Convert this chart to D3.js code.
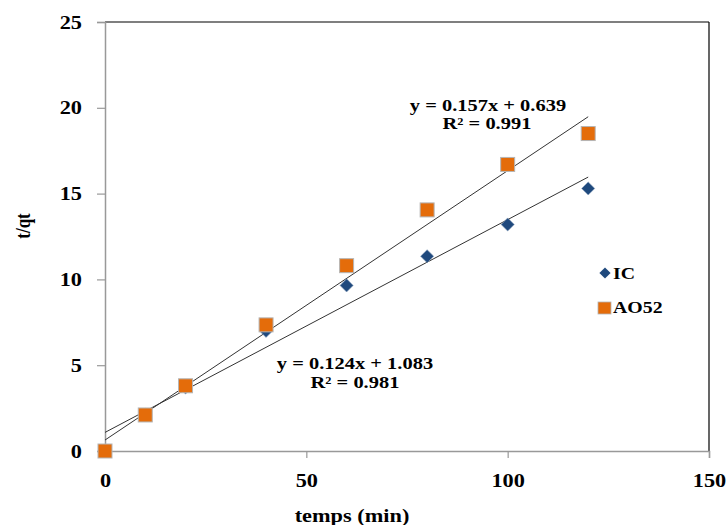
<!DOCTYPE html>
<html>
<head>
<meta charset="utf-8">
<script src="https://cdn.jsdelivr.net/npm/d3@7"></script>
<style>
  body { margin: 0; background: #fff; }
  text { font-family: "Liberation Serif", "Times New Roman", serif; font-weight: bold; fill: #000; }
</style>
</head>
<body>
<svg id="chart" width="727" height="525"></svg>
<script>
// data
var times = [0, 10, 20, 40, 60, 80, 100, 120];
var icValues = [0, 2.1, 3.7, 7.0, 9.65, 11.35, 13.2, 15.3];
var ao52Values = [0, 2.1, 3.8, 7.35, 10.8, 14.05, 16.7, 18.5];
var xTicks = [0, 50, 100, 150];
var yTicks = [0, 5, 10, 15, 20, 25];
var fits = [
  { name: "AO52", slope: 0.157, intercept: 0.639, eq: "y = 0.157x + 0.639", r2: "R² = 0.991" },
  { name: "IC", slope: 0.124, intercept: 1.083, eq: "y = 0.124x + 1.083", r2: "R² = 0.981" }
];

// the original figure is a bit stretched sideways, so text is widened too
var stretch = 1.24;

var svg = d3.select("#chart");
var margin = { top: 22, right: 18, bottom: 74, left: 105 };
var width = 727 - margin.left - margin.right;
var height = 525 - margin.top - margin.bottom;

var x = d3.scaleLinear().domain([0, 150]).range([0, width]);
var y = d3.scaleLinear().domain([0, 25]).range([height, 0]);

var g = svg.append("g")
  .attr("transform", "translate(" + margin.left + "," + margin.top + ")");

// places a widened text at (px, py)
function wideText(parent, px, py, str, size, anchor) {
  return parent.append("text")
    .attr("transform", "translate(" + px + "," + py + ") scale(" + stretch + ",1)")
    .attr("text-anchor", anchor || "middle")
    .style("font-size", size + "px")
    .text(str);
}

// frame: top and right dark
g.append("line").attr("x1", 0).attr("x2", width).attr("y1", 0).attr("y2", 0)
  .attr("stroke", "#555").attr("stroke-width", 1.5);
g.append("line").attr("x1", width).attr("x2", width).attr("y1", 0).attr("y2", height)
  .attr("stroke", "#000").attr("stroke-width", 1.2);

var xAxis = g.append("g")
  .attr("transform", "translate(0," + height + ")")
  .call(d3.axisBottom(x).tickValues(xTicks).tickSize(7));
var yAxis = g.append("g")
  .call(d3.axisLeft(y).tickValues(yTicks).tickSize(8));

[xAxis, yAxis].forEach(function(ax) {
  ax.select(".domain").attr("stroke", "#999").attr("stroke-width", 1.5);
  ax.selectAll(".tick line").attr("stroke", "#999").attr("stroke-width", 1.2);
  ax.selectAll(".tick text").style("font-size", "18px")
    .style("font-family", "'Liberation Serif', serif").style("font-weight", "bold")
    .attr("x", null).attr("y", null).attr("dy", null);
});
xAxis.selectAll(".tick text")
  .attr("transform", "translate(0,36) scale(" + stretch + ",1)");
yAxis.selectAll(".tick text")
  .attr("text-anchor", "end")
  .attr("transform", "translate(-23,6) scale(" + stretch + ",1)");

// trend lines
fits.forEach(function(f) {
  g.append("line")
    .attr("x1", x(0)).attr("y1", y(f.intercept))
    .attr("x2", x(120)).attr("y2", y(f.slope * 120 + f.intercept))
    .attr("stroke", "#333").attr("stroke-width", 1);
});

var diamond = d3.symbol().type(d3.symbolDiamond2).size(110);

// IC points
g.selectAll(".ic").data(times).enter().append("path")
  .attr("class", "ic")
  .attr("d", diamond)
  .attr("transform", function(d, i) { return "translate(" + x(d) + "," + y(icValues[i]) + ")"; })
  .attr("fill", "#1F497D")
  .attr("stroke", "#8ea4c0").attr("stroke-width", 0.6);

// AO52 points
var sq = 14;
g.selectAll(".ao").data(times).enter().append("rect")
  .attr("class", "ao")
  .attr("x", function(d) { return x(d) - sq / 2; })
  .attr("y", function(d, i) { return y(ao52Values[i]) - sq / 2; })
  .attr("width", sq).attr("height", sq)
  .attr("fill", "#E46C0A")
  .attr("stroke", "#b5b5b5").attr("stroke-width", 1);

// equations
wideText(svg, 488, 111, fits[0].eq, 16.5);
wideText(svg, 487, 129, fits[0].r2, 16.5);
wideText(svg, 355, 369, fits[1].eq, 16.5);
wideText(svg, 355, 388, fits[1].r2, 16.5);

// legend
var legend = svg.append("g").attr("transform", "translate(605,273)");
legend.append("path").attr("d", d3.symbol().type(d3.symbolDiamond2).size(80))
  .attr("fill", "#1F497D");
wideText(legend, 8, 6, "IC", 16, "start");
legend.append("rect").attr("x", -7).attr("y", 29).attr("width", 13).attr("height", 12)
  .attr("fill", "#E46C0A").attr("stroke", "#b5b5b5").attr("stroke-width", 0.8);
wideText(legend, 8, 40, "AO52", 16, "start");

// axis titles
wideText(svg, 352, 522, "temps (min)", 18);
svg.append("text").attr("transform", "translate(30,226) rotate(-90) scale(1," + stretch + ")")
  .attr("text-anchor", "middle").style("font-size", "17px").text("t/qt");
</script>
</body>
</html>
